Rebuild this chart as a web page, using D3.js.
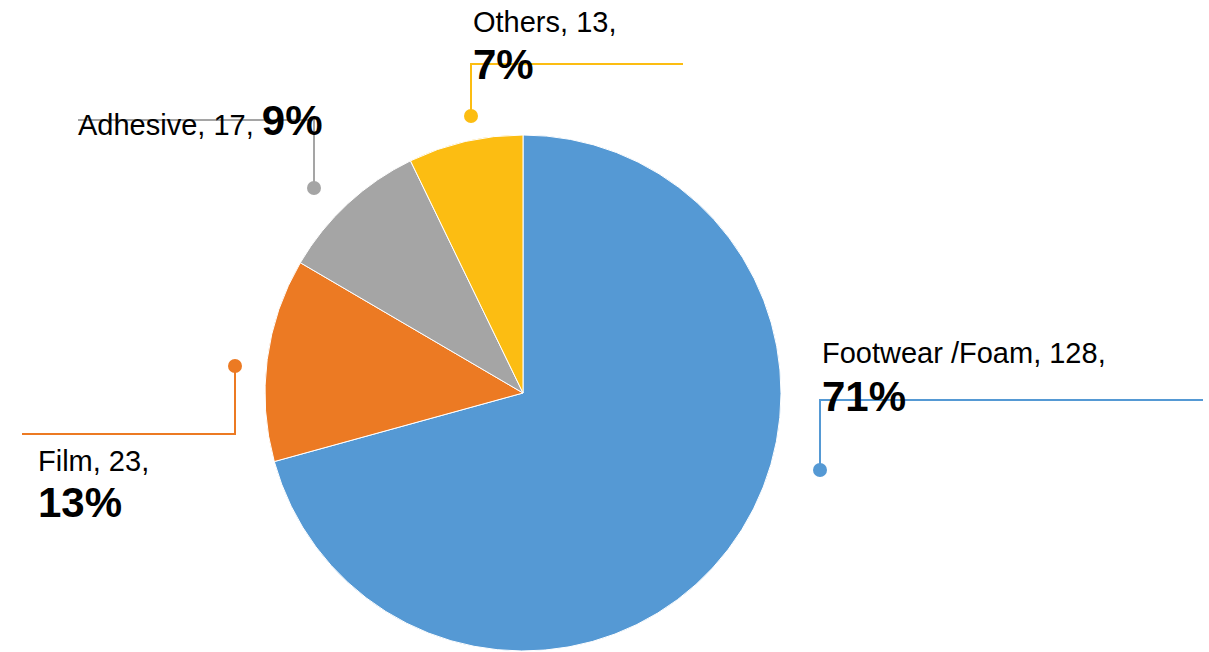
<!DOCTYPE html>
<html><head><meta charset="utf-8">
<script src="https://cdn.jsdelivr.net/npm/d3@7"></script>
<style>body{margin:0;background:#fff}svg{display:block}text{font-family:"Liberation Sans",Arial,sans-serif;fill:#000}</style>
</head><body><svg id="c" width="1209" height="652"></svg>
<script>
const categories = ["Footwear /Foam", "Film", "Adhesive", "Others"];
const values = [128, 23, 17, 13];
const colors = ["#5599d4", "#ec7a23", "#a5a5a5", "#fcbd12"];
// leader line anchors: [dotX, dotY, elbowY, endX]
const leaders = [[820, 470, 400, 1203], [235, 366, 434, 22], [314, 188, 120, 78], [471, 116, 64, 683]];

const svg = d3.select("#c");
const cx = 523, cy = 393, r = 258;
const total = d3.sum(values);
const data = categories.map((c, i) => ({c, v: values[i], col: colors[i], L: leaders[i]}));
const pie = d3.pie().value(d => d.v).sort(null);
const arc = d3.arc().innerRadius(0).outerRadius(r);
const g = svg.append("g").attr("transform", `translate(${cx},${cy})`);
g.selectAll("path").data(pie(data)).join("path").attr("d", arc).attr("fill", d => d.data.col)
  .attr("stroke", "#fff").attr("stroke-width", 1);

data.forEach(d => {
  const [x, y, ey, ex] = d.L;
  svg.append("path").attr("d", `M${x},${y}V${ey}H${ex}`).attr("fill", "none").attr("stroke", d.col).attr("stroke-width", 2);
  svg.append("circle").attr("cx", x).attr("cy", y).attr("r", 7).attr("fill", d.col);
});
const pct = v => Math.round(v / total * 100) + "%";
const FS = 29, FB = 42;
function twoLine(d, x, y1, y2) {
  svg.append("text").attr("x", x).attr("y", y1).attr("font-size", FS).text(`${d.c}, ${d.v},`);
  svg.append("text").attr("x", x).attr("y", y2).attr("font-size", FB).attr("font-weight", "bold").text(pct(d.v));
}
twoLine(data[0], 822, 363, 411);
twoLine(data[1], 38, 471, 517);
twoLine(data[3], 473, 31.5, 79);
const t = svg.append("text").attr("x", 78).attr("y", 135).attr("font-size", FS);
t.append("tspan").text(`${data[2].c}, ${data[2].v}, `);
t.append("tspan").attr("font-size", FB).attr("font-weight", "bold").text(pct(data[2].v));
</script></body></html>
